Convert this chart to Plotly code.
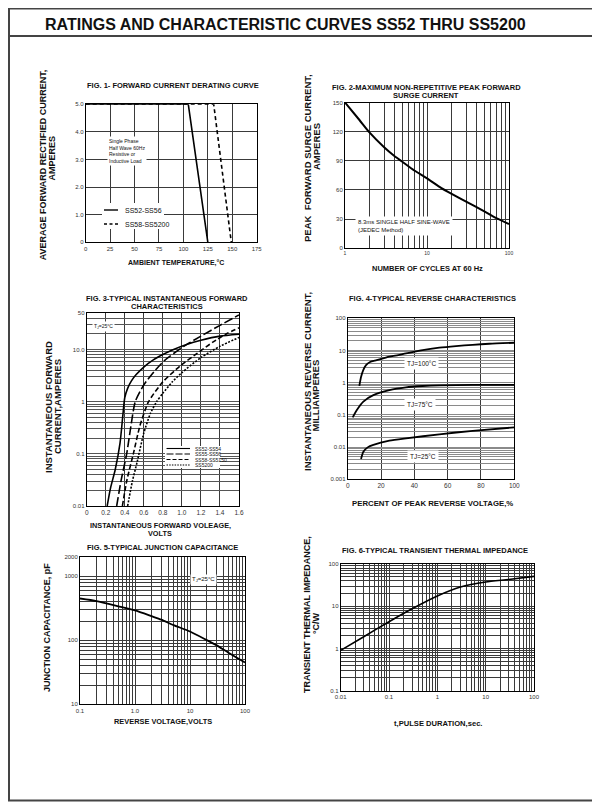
import math
import plotly.graph_objects as go

W, H = 600, 811
OFF = 8  # page body margin: the figure is drawn 8px right/down of the window origin
FONT = "Liberation Sans"


def px(x):
    return (x - OFF) / W


def py(y):
    return 1 - (y - OFF) / H


# ---------------- data ----------------
# Fig 1 - forward current derating
temp_ss52 = [0, 105, 125]
cur_ss52 = [5.0, 5.0, 0.0]
temp_ss58 = [0, 131, 149]
cur_ss58 = [5.0, 5.0, 0.0]
f1_xticks = [0, 25, 50, 75, 100, 125, 150, 175]
f1_yticks = [0, 1, 2, 3, 4, 5]
f1_ylabels = ["0", "1.0", "2.0", "3.0", "4.0", "5.0"]

# Fig 2 - surge current
cycles = [1, 1.5, 2, 3, 4, 5, 7, 10, 15, 20, 30, 50, 70, 100]
surge = [150, 132, 119, 104, 95, 89, 80, 72, 62, 56, 48, 38, 31, 25]
f2_yticks = [0, 30, 60, 90, 120, 150]
f2_xlabel_vals = [1, 10, 100]
f2_xlabel_text = ["1", "10", "100"]

# Fig 3 - forward characteristics
vf_ss52 = [0.215, 0.25, 0.30, 0.35, 0.38, 0.40, 0.43, 0.47, 0.52, 0.60, 0.70, 0.80, 0.90, 1.05, 1.20, 1.40, 1.60]
if_ss52 = [0.01, 0.022, 0.05, 0.16, 0.55, 1.2, 1.8, 2.5, 3.3, 4.6, 6.3, 8.0, 9.8, 12.5, 15.0, 18.0, 19.6]
vf_ss55 = [0.315, 0.36, 0.42, 0.46, 0.51, 0.60, 0.72, 0.82, 1.02, 1.20, 1.40, 1.60]
if_ss55 = [0.01, 0.03, 0.1, 0.3, 1.0, 2.1, 4.0, 6.2, 11.5, 18.0, 29.0, 46.0]
vf_ss58 = [0.375, 0.42, 0.49, 0.56, 0.65, 0.80, 0.98, 1.16, 1.33, 1.47, 1.60]
if_ss58 = [0.01, 0.03, 0.1, 0.35, 1.0, 2.4, 4.8, 8.4, 14.0, 20.0, 26.0]
vf_ss5200 = [0.43, 0.48, 0.53, 0.60, 0.67, 0.735, 0.80, 0.90, 1.00, 1.20, 1.40, 1.60]
if_ss5200 = [0.01, 0.03, 0.07, 0.25, 0.6, 1.0, 1.45, 2.4, 3.6, 7.0, 11.5, 17.0]
f3_xticks = [0, 0.2, 0.4, 0.6, 0.8, 1.0, 1.2, 1.4, 1.6]
f3_xlabels = ["0", "0.2", "0.4", "0.6", "0.8", "1.0", "1.2", "1.4", "1.6"]
f3_ylabel_vals = [0.01, 0.1, 1, 10, 50]
f3_ylabel_text = ["0.01", "0.1", "1", "10.0", "50"]
f3_names = ["SS52-SS54", "SS55-SS56", "SS58-SS5150", "SS5200"]

# Fig 4 - reverse characteristics
pct_100 = [7, 8, 9.4, 11, 13.4, 17.4, 25, 35, 45, 55, 65, 75, 85, 100]
ir_100 = [0.8, 1.5, 2.5, 3.5, 4.4, 5.0, 6.4, 8.1, 10.3, 12.2, 13.7, 15.0, 16.2, 17.4]
pct_75 = [3, 5.4, 9.4, 15.4, 25, 35, 45, 55, 75, 100]
ir_75 = [0.084, 0.14, 0.26, 0.41, 0.59, 0.72, 0.79, 0.83, 0.85, 0.86]
pct_25 = [8, 9.4, 12, 15.4, 25, 35, 55, 75, 100]
ir_25 = [0.0043, 0.0072, 0.0098, 0.0117, 0.0158, 0.0187, 0.025, 0.032, 0.041]
f4_xticks = [0, 20, 40, 60, 80, 100]
f4_ylabel_vals = [0.001, 0.01, 0.1, 1, 10, 100]
f4_ylabel_text = ["0.001", "0.01", "0.1", "1", "10", "100"]

# Fig 5 - junction capacitance
vr = [0.1, 0.2, 0.5, 1, 2, 3, 5, 10, 20, 30, 50, 100]
cj = [450, 410, 340, 293, 238, 210, 173, 137, 101, 84, 64, 45]
f5_xlabel_vals = [0.1, 1, 10, 100]
f5_xlabel_text = ["0.1", "1.0", "10", "100"]
f5_ylabel_vals = [10, 100, 1000, 2000]
f5_ylabel_text = ["10", "100", "1000", "2000"]

# Fig 6 - transient thermal impedance
t_pulse = [0.01, 0.03, 0.1, 0.3, 1, 3, 10, 30, 100]
zth = [0.9, 1.9, 4.3, 8.7, 17.5, 28.5, 37.5, 43, 51]
f6_xlabel_vals = [0.01, 0.1, 1, 10, 100]
f6_xlabel_text = ["0.01", "0.1", "1", "10", "100"]
f6_ylabel_vals = [0.1, 1, 10, 100]
f6_ylabel_text = ["0.1", "1", "10", "100"]


# ---------------- helpers ----------------
def log_grid(lo, hi, top=None):
    vals = []
    for e in range(lo, hi):
        for m in range(1, 10):
            vals.append(round(m * 10 ** e, 6))
    vals.append(round(10 ** hi, 6))
    if top is not None:
        vals = [v for v in vals if v <= top + 1e-9]
        if round(top, 6) not in vals:
            vals.append(round(top, 6))
    return vals


def labelled(vals, lab_vals, lab_text):
    m = {round(v, 6): t for v, t in zip(lab_vals, lab_text)}
    return [m.get(round(v, 6), "") for v in vals]


def axis(domain, anchor, grid="#3a3a3a", size=6, **kw):
    d = dict(domain=domain, anchor=anchor, showline=True, mirror=True,
             linecolor="black", linewidth=1, ticks="", showgrid=True,
             gridcolor=grid, gridwidth=1, zeroline=False,
             tickfont=dict(family=FONT, size=size, color="#333"))
    d.update(kw)
    return d


fig = go.Figure()


def line(x, y, ax, width=1.6, dash="solid", name=None):
    fig.add_trace(go.Scatter(x=x, y=y, xaxis="x" + ax, yaxis="y" + ax, mode="lines",
                             line=dict(color="black", width=width, dash=dash, shape="spline", smoothing=0.6),
                             name=name, showlegend=False, hoverinfo="skip"))


# Fig 1 (straight segments)
fig.add_trace(go.Scatter(x=temp_ss52, y=cur_ss52, xaxis="x", yaxis="y", mode="lines",
                         line=dict(color="black", width=1.6), showlegend=False))
fig.add_trace(go.Scatter(x=temp_ss58, y=cur_ss58, xaxis="x", yaxis="y", mode="lines",
                         line=dict(color="black", width=1.6, dash="4px,3px"), showlegend=False))
# Fig 2
line(cycles, surge, "2", width=2)
# Fig 3
line(vf_ss52, if_ss52, "3", width=1.6, name=f3_names[0])
line(vf_ss55, if_ss55, "3", width=1.6, dash="9px,3px", name=f3_names[1])
line(vf_ss58, if_ss58, "3", width=1.6, dash="5px,2.5px", name=f3_names[2])
line(vf_ss5200, if_ss5200, "3", width=1.6, dash="2px,1.5px", name=f3_names[3])
# Fig 4
line(pct_100, ir_100, "4", width=1.8)
line(pct_75, ir_75, "4", width=1.8)
line(pct_25, ir_25, "4", width=1.8)
# Fig 5
line(vr, cj, "5", width=1.8)
# Fig 6
line(t_pulse, zth, "6", width=1.6)

# ---------------- axes ----------------
f2_xgrid = log_grid(0, 2)
f3_ygrid = log_grid(-2, 2, top=50)
f4_ygrid = log_grid(-3, 2)
f5_xgrid = log_grid(-1, 2)
f5_ygrid = log_grid(1, 3, top=2000)
f6_xgrid = log_grid(-2, 2)
f6_ygrid = log_grid(-1, 2)

layout_axes = dict(
    xaxis=axis([px(85.7), px(256.7)], "y", range=[0, 175], tickvals=f1_xticks,
               ticktext=[str(v) for v in f1_xticks]),
    yaxis=axis([py(242.3), py(104.3)], "x", range=[0, 5], tickvals=f1_yticks, ticktext=f1_ylabels),
    xaxis2=axis([px(345), px(509)], "y2", type="log", range=[0, 2], tickvals=f2_xgrid,
                ticktext=labelled(f2_xgrid, f2_xlabel_vals, f2_xlabel_text), size=5),
    yaxis2=axis([py(248.3), py(102.5)], "x2", range=[0, 150], tickvals=f2_yticks,
                ticktext=[str(v) for v in f2_yticks]),
    xaxis3=axis([px(86.7), px(239)], "y3", range=[0, 1.6], tickvals=f3_xticks, ticktext=f3_xlabels,
                size=6.5),
    yaxis3=axis([py(506), py(313)], "x3", type="log", range=[-2, math.log10(50)], tickvals=f3_ygrid,
                ticktext=labelled(f3_ygrid, f3_ylabel_vals, f3_ylabel_text), gridcolor="#555"),
    xaxis4=axis([px(347.7), px(514.3)], "y4", range=[0, 100], tickvals=f4_xticks,
                ticktext=[str(v) for v in f4_xticks], size=6.5),
    yaxis4=axis([py(479.3), py(318.3)], "x4", type="log", range=[-3, 2], tickvals=f4_ygrid,
                ticktext=labelled(f4_ygrid, f4_ylabel_vals, f4_ylabel_text), gridcolor="#8a8a8a"),
    xaxis5=axis([px(80), px(245)], "y5", type="log", range=[-1, 2], tickvals=f5_xgrid,
                ticktext=labelled(f5_xgrid, f5_xlabel_vals, f5_xlabel_text)),
    yaxis5=axis([py(704.3), py(557)], "x5", type="log", range=[1, math.log10(2000)], tickvals=f5_ygrid,
                ticktext=labelled(f5_ygrid, f5_ylabel_vals, f5_ylabel_text)),
    xaxis6=axis([px(340.7), px(534)], "y6", type="log", range=[-2, 2], tickvals=f6_xgrid,
                ticktext=labelled(f6_xgrid, f6_xlabel_vals, f6_xlabel_text)),
    yaxis6=axis([py(690.7), py(564)], "x6", type="log", range=[-1, 2], tickvals=f6_ygrid,
                ticktext=labelled(f6_ygrid, f6_ylabel_vals, f6_ylabel_text)),
)

# ---------------- text ----------------
ann = []


def text(x, y, s, size=7.5, bold=True, angle=0, xanchor="center", align="center", bg=None, pad=1):
    ann.append(dict(x=px(x), y=py(y), xref="paper", yref="paper", text=("<b>%s</b>" % s) if bold else s,
                    showarrow=False, textangle=angle, xanchor=xanchor, yanchor="middle", align=align,
                    font=dict(family=FONT, size=size, color="#111"),
                    bgcolor=bg, borderpad=pad))


text(43, 24, "RATINGS AND CHARACTERISTIC CURVES SS52 THRU SS5200", size=16, xanchor="left")

# figure titles
text(172.5, 85, "FIG. 1- FORWARD CURRENT DERATING CURVE")
text(426, 87, "FIG. 2-MAXIMUM NON-REPETITIVE PEAK FORWARD")
text(426, 95.5, "SURGE CURRENT")
text(167, 298, "FIG. 3-TYPICAL INSTANTANEOUS FORWARD")
text(167, 306.5, "CHARACTERISTICS")
text(432, 298, "FIG. 4-TYPICAL REVERSE CHARACTERISTICS")
text(162, 547, "FIG. 5-TYPICAL JUNCTION CAPACITANCE")
text(435, 550, "FIG. 6-TYPICAL TRANSIENT THERMAL IMPEDANCE")

# x axis titles
text(176, 263, "AMBIENT TEMPERATURE,°C", size=7)
text(427, 269, "NUMBER OF CYCLES AT 60 Hz", size=7.5)
text(160, 525, "INSTANTANEOUS FORWARD VOLEAGE,", size=7.3)
text(160, 533.5, "VOLTS", size=7.3)
text(432, 503, "PERCENT OF PEAK REVERSE VOLTAGE,%", size=7.8)
text(163, 721, "REVERSE VOLTAGE,VOLTS", size=7.4)
text(438, 723, "t,PULSE DURATION,sec.", size=7.6)

# y axis titles
text(43.3, 165, "AVERAGE FORWARD RECTIFIED CURRENT,", size=9, angle=-90)
text(51.5, 158, "AMPERES", size=9, angle=-90)
text(307, 158, "PEAK  FORWARD SURGE CURRENT,", size=9.5, angle=-90)
text(316, 147, "AMPERES", size=9.5, angle=-90)
text(48, 407, "INSTANTANEOUS FORWARD", size=9.5, angle=-90)
text(57, 407, "CURRENT,AMPERES", size=9.5, angle=-90)
text(307, 382, "INSTANTANEOUS REVERSE CURRENT,", size=9.5, angle=-90)
text(315.5, 396, "MILLIAMPERES", size=9.5, angle=-90)
text(47, 628, "JUNCTION CAPACITANCE, pF", size=9, angle=-90)
text(307, 615, "TRANSIENT THERMAL IMPEDANCE,", size=9, angle=-90)
text(316, 623, "°C/W", size=9, angle=-90)

# in-plot notes
text(107, 151, "Single Phase<br>Half Wave 60Hz<br>Resistive or<br>Inductive Load", size=5, bold=False,
     xanchor="left", align="left", bg="white")
text(355, 225.5, "8.3ms SINGLE HALF SINE-WAVE<br>(JEDEC Method)", size=6, bold=False,
     xanchor="left", align="left", bg="white", pad=2)
text(103.5, 326, "T<sub>J</sub>=25°C", size=5, bold=False, bg="white")
text(421, 363.5, "TJ=100°C", size=6.5, bold=False, bg="white", pad=2)
text(420, 405, "TJ=75°C", size=6.5, bold=False, bg="white", pad=2)
text(423, 456.5, "TJ=25°C", size=6.5, bold=False, bg="white", pad=2)
text(203, 579, "T<sub>J</sub>=25°C", size=6, bold=False, bg="white")

# legends (swatches + labels)
shapes = []


def rect(x0, y0, x1, y1, lw=0, color="white", fill="white"):
    shapes.append(dict(type="rect", xref="paper", yref="paper", x0=px(x0), x1=px(x1), y0=py(y0), y1=py(y1),
                       line=dict(width=lw, color=color), fillcolor=fill, layer="above"))


def swatch(x0, x1, y, dash="solid", w=1.4):
    shapes.append(dict(type="line", xref="paper", yref="paper", x0=px(x0), x1=px(x1), y0=py(y), y1=py(y),
                       line=dict(color="black", width=w, dash=dash), layer="above"))


rect(102, 203, 164, 229)
swatch(104, 118, 210)
swatch(104, 118, 224, dash="3px,2.5px")
text(123, 210, "SS52-SS56", size=7, bold=False, xanchor="left")
text(123, 224, "SS58-SS5200", size=7, bold=False, xanchor="left")

rect(165, 446, 220, 468)
leg_y = [448.5, 454, 459.5, 465]
leg_dash = ["solid", "7px,2px", "4px,2px", "1.5px,1.2px"]
for yy, dd, nm in zip(leg_y, leg_dash, f3_names):
    swatch(166.5, 190, yy, dash=dd, w=1.1)
    text(192.5, yy, nm, size=5, bold=False, xanchor="left")

# frame
rect(9, 8.5, 594.5, 800.5, lw=2, color="#444", fill="rgba(0,0,0,0)")
shapes.append(dict(type="line", xref="paper", yref="paper", x0=px(9), x1=px(594.5), y0=py(36), y1=py(36),
                   line=dict(color="#444", width=2), layer="above"))

fig.update_layout(
    width=W, height=H, margin=dict(l=0, r=0, t=0, b=0),
    paper_bgcolor="white", plot_bgcolor="white", template="none",
    showlegend=False, annotations=ann, shapes=shapes,
    **layout_axes,
)

fig.write_html("out.html")
